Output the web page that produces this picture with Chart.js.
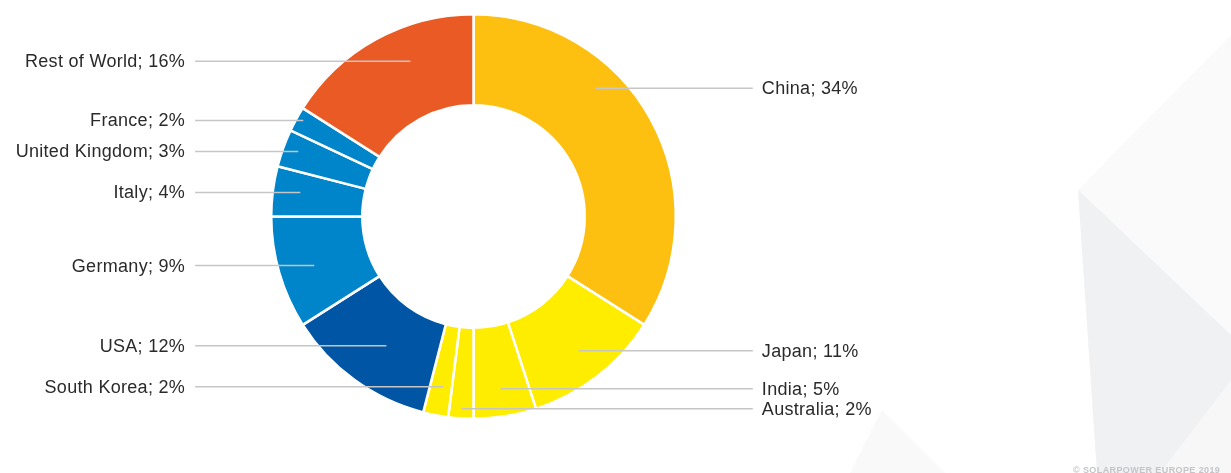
<!DOCTYPE html>
<html>
<head>
<meta charset="utf-8">
<script src="https://cdn.jsdelivr.net/npm/chart.js@4/dist/chart.umd.min.js"></script>
<style>
  html, body { margin: 0; padding: 0; background: #ffffff; }
  #wrap { width: 1231px; height: 473px; position: relative; }
</style>
</head>
<body>
<div id="wrap"><canvas id="share" width="1231" height="473"></canvas></div>
<script>
// data (share of installed capacity, %)
const countries = ['China', 'Japan', 'India', 'Australia', 'South Korea', 'USA', 'Germany', 'Italy', 'United Kingdom', 'France', 'Rest of World'];
const shares = [34, 11, 5, 2, 2, 12, 9, 4, 3, 2, 16];
const sliceColors = ['#FDC010', '#FFED00', '#FFED00', '#FFED00', '#FFED00', '#0055A5', '#0085CA', '#0085CA', '#0085CA', '#0085CA', '#E95A25'];

// where each leader line ends inside its slice, offset from the centre (at radius 202)
const anchorOffsets = [
    [122, -128], [105, 134], [27, 172], [-12, 192], [-30, 170],
    [-87, 129], [-159, 49], [-173, -24], [-175, -65], [-170, -96], [-63, -155]
];
const labelRight = [true, true, true, true, false, false, false, false, false, false, false];

// faint polygon backdrop + copyright line
const backdrop = {
    id: 'backdrop',
    beforeDraw(chart) {
        const ctx = chart.ctx;
        ctx.save();
        ctx.fillStyle = '#ffffff';
        ctx.fillRect(0, 0, chart.width, chart.height);

        ctx.fillStyle = '#fafafa';
        ctx.beginPath();
        ctx.moveTo(1078, 190); ctx.lineTo(1231, 35); ctx.lineTo(1231, 473); ctx.lineTo(1097, 473);
        ctx.closePath(); ctx.fill();

        ctx.fillStyle = '#f0f1f3';
        ctx.beginPath();
        ctx.moveTo(1078, 190); ctx.lineTo(1231, 335); ctx.lineTo(1231, 473); ctx.lineTo(1097, 473);
        ctx.closePath(); ctx.fill();

        ctx.fillStyle = '#f7f7f8';
        ctx.beginPath();
        ctx.moveTo(1231, 380); ctx.lineTo(1231, 473); ctx.lineTo(1160, 473);
        ctx.closePath(); ctx.fill();

        ctx.fillStyle = '#f9f9f9';
        ctx.beginPath();
        ctx.moveTo(882, 410); ctx.lineTo(945, 473); ctx.lineTo(850, 473);
        ctx.closePath(); ctx.fill();

        ctx.fillStyle = '#c3c5c8';
        ctx.font = 'bold 9px "Liberation Sans", Arial, sans-serif';
        ctx.letterSpacing = '0.4px';
        ctx.textAlign = 'left';
        ctx.textBaseline = 'alphabetic';
        ctx.fillText('© SOLARPOWER EUROPE 2019', 1073, 473);
        ctx.restore();
    }
};

// horizontal leader lines with "Name; xx%" labels
const leaderLabels = {
    id: 'leaderLabels',
    afterDatasetsDraw(chart) {
        const meta = chart.getDatasetMeta(0);
        const first = meta.data[0];
        const cx = first.x, cy = first.y, R = first.outerRadius;
        const k = R / 202;
        const ctx = chart.ctx;
        ctx.save();
        ctx.font = '18px "Liberation Sans", Arial, sans-serif';
        ctx.letterSpacing = '0.3px';
        ctx.textBaseline = 'middle';
        meta.data.forEach((arc, i) => {
            const ax = cx + anchorOffsets[i][0] * k;
            const ay = cy + anchorOffsets[i][1] * k;
            const right = labelRight[i];
            const lineEnd = cx + (right ? 279 : -278) * k;
            const textX = cx + (right ? 288 : -288) * k;

            ctx.strokeStyle = '#c6c6c6';
            ctx.lineWidth = 1.5;
            ctx.beginPath();
            ctx.moveTo(ax, ay);
            ctx.lineTo(lineEnd, ay);
            ctx.stroke();

            ctx.fillStyle = '#2a2a2a';
            ctx.textAlign = right ? 'left' : 'right';
            ctx.fillText(countries[i] + '; ' + shares[i] + '%', textX, ay + 1);
        });
        ctx.restore();
    }
};

const ctx = document.getElementById('share');
const shareChart = new Chart(ctx, {
    type: 'doughnut',
    data: {
        labels: countries,
        datasets: [{
            data: shares,
            backgroundColor: sliceColors,
            borderColor: '#ffffff',
            borderWidth: 2.5
        }]
    },
    options: {
        responsive: false,
        animation: false,
        cutout: '55%',
        layout: {
            padding: { left: 270, right: 554, top: 13, bottom: 53 }
        },
        plugins: {
            legend: { display: false },
            tooltip: { enabled: false }
        }
    },
    plugins: [backdrop, leaderLabels]
});
</script>
</body>
</html>
